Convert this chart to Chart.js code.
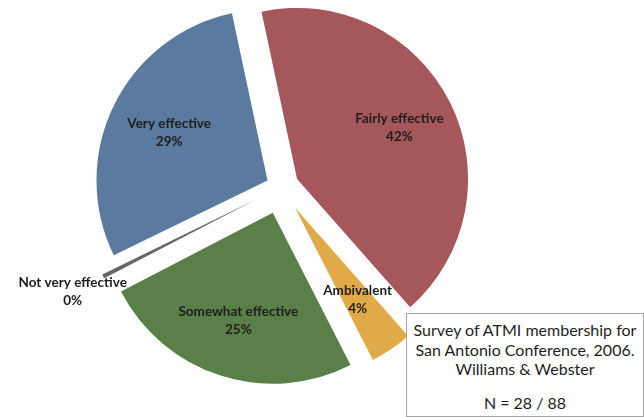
<!DOCTYPE html>
<html>
<head>
<meta charset="utf-8">
<script src="https://cdn.jsdelivr.net/npm/chart.js@4.4.0/dist/chart.umd.min.js"></script>
<style>
  html, body { margin: 0; padding: 0; background: #fff; }
  #wrap { position: relative; width: 644px; height: 417px; }
  #note {
    position: absolute; left: 406px; top: 313px; width: 238px; height: 104px;
    box-sizing: border-box; border: 1px solid #a6a6a6; background: #fff;
    font: 16px Lato, sans-serif; color: #1e1e1e; text-align: center;
    padding-top: 6px; line-height: 19.5px;
  }
  #note .n { margin-top: 14px; }
</style>
</head>
<body>
<div id="wrap">
  <canvas id="pieChart" width="644" height="417"></canvas>
  <div id="note">
    <div>Survey of ATMI membership for</div>
    <div>San Antonio Conference, 2006.</div>
    <div>Williams &amp; Webster</div>
    <div class="n">N = 28 / 88</div>
  </div>
</div>
<script>
// survey answers, clockwise from the top
const categories = ['Fairly effective', 'Ambivalent', 'Somewhat effective', 'Not very effective', 'Very effective'];
const percentages = [42, 4, 25, 0.4, 29];

const sliceColors = ['#a5575b', '#e1aa49', '#5a7f49', '#666666', '#5b7aa0'];
const explode = [18, 25, 27, 28, 15];           // px each slice is pulled out
const labelReach = [0.67, 0.65, 0.66, 1.2, 0.64]; // label distance from slice tip, x radius

// Pull slices out by their whole offset. The stock arc also trims radius
// and angle of small slices, which nearly wipes out the thin one.
const stockArcDraw = Chart.ArcElement.prototype.draw;
Chart.ArcElement.prototype.draw = function (ctx) {
    const opts = this.options;
    const shift = opts.offset || 0;
    const mid = (this.startAngle + this.endAngle) / 2;
    ctx.save();
    ctx.translate(Math.cos(mid) * shift, Math.sin(mid) * shift);
    this.options = Object.assign({}, opts, { offset: 0 });
    stockArcDraw.call(this, ctx);
    this.options = opts;
    ctx.restore();
};

// name and percentage written on (or beside) each slice
const sliceLabels = {
    id: 'sliceLabels',
    afterDatasetsDraw(chart) {
        const ctx = chart.ctx;
        const meta = chart.getDatasetMeta(0);
        ctx.save();
        ctx.font = 'bold 13.5px Lato, sans-serif';
        ctx.fillStyle = '#1d1d1d';
        ctx.textAlign = 'center';
        ctx.textBaseline = 'middle';
        meta.data.forEach((arc, i) => {
            const mid = (arc.startAngle + arc.endAngle) / 2;
            const d = explode[i] + labelReach[i] * arc.outerRadius;
            const x = arc.x + Math.cos(mid) * d;
            const y = arc.y + Math.sin(mid) * d;
            ctx.fillText(categories[i], x, y - 9);
            ctx.fillText(Math.round(percentages[i]) + '%', x, y + 9);
        });
        ctx.restore();
    }
};

const ctx = document.getElementById('pieChart').getContext('2d');
const pieChart = new Chart(ctx, {
    type: 'pie',
    data: {
        labels: categories,
        datasets: [{
            data: percentages,
            backgroundColor: sliceColors,
            borderWidth: 0,
            offset: explode,
            hoverOffset: 0,
            clip: false
        }]
    },
    options: {
        responsive: false,
        animation: false,
        rotation: -12,
        radius: 171,
        layout: { padding: { left: 0, right: 82, top: 0, bottom: 43 } },
        plugins: {
            legend: { display: false },
            tooltip: { enabled: false }
        }
    },
    plugins: [sliceLabels]
});
</script>
</body>
</html>
